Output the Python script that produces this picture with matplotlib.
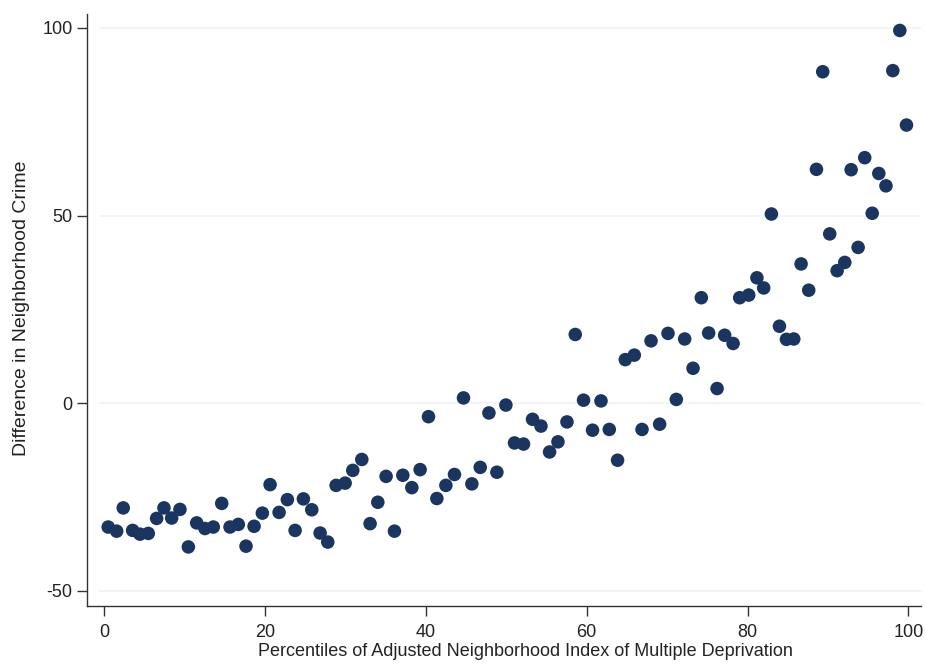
import matplotlib
matplotlib.use("Agg")
import matplotlib.pyplot as plt

# percentile (x) and difference in neighborhood crime (y)
pct = [0.53, 1.58, 2.40, 3.57, 4.48, 5.51, 6.55, 7.46, 8.42, 9.45,
       10.49, 11.53, 12.56, 13.59, 14.64, 15.67, 16.70, 17.66, 18.66, 19.69,
       20.65, 21.77, 22.80, 23.76, 24.79, 25.83, 26.87, 27.82, 28.86, 29.98,
       30.93, 32.05, 33.08, 34.04, 35.07, 36.11, 37.15, 38.27, 39.30, 40.34,
       41.38, 42.50, 43.57, 44.69, 45.73, 46.77, 47.85, 48.84, 49.96, 51.03,
       52.15, 53.27, 54.32, 55.39, 56.43, 57.55, 58.58, 59.61, 60.73, 61.78,
       62.81, 63.84, 64.80, 65.92, 66.88, 68.00, 69.07, 70.11, 71.14, 72.18,
       73.22, 74.25, 75.16, 76.21, 77.15, 78.20, 79.02, 80.14, 81.16, 82.00,
       82.96, 83.96, 84.83, 85.74, 86.65, 87.60, 88.56, 89.34, 90.21, 91.13,
       92.08, 92.87, 93.74, 94.56, 95.49, 96.31, 97.20, 98.05, 98.92, 99.75]
crime = [-33.0, -34.1, -27.9, -33.9, -34.9, -34.7, -30.7, -27.9, -30.6, -28.3,
         -38.3, -31.9, -33.4, -33.0, -26.7, -33.0, -32.3, -38.1, -32.8, -29.3,
         -21.7, -29.1, -25.7, -33.9, -25.5, -28.4, -34.6, -37.0, -21.9, -21.3,
         -17.9, -15.0, -32.1, -26.4, -19.5, -34.1, -19.2, -22.5, -17.7, -3.6,
         -25.4, -21.9, -19.0, 1.4, -21.5, -17.1, -2.6, -18.4, -0.5, -10.6,
         -10.9, -4.3, -6.1, -13.0, -10.3, -5.0, 18.3, 0.8, -7.2, 0.6,
         -7.0, -15.2, 11.6, 12.8, -7.0, 16.6, -5.6, 18.6, 1.0, 17.1,
         9.3, 28.1, 18.7, 3.9, 18.1, 15.9, 28.1, 28.8, 33.4, 30.7,
         50.4, 20.5, 17.0, 17.1, 37.1, 30.1, 62.3, 88.3, 45.1, 35.3,
         37.5, 62.2, 41.5, 65.4, 50.6, 61.2, 57.9, 88.6, 99.3, 74.1]

xticks = [0, 20, 40, 60, 80, 100]
yticks = [-50, 0, 50, 100]

plt.rcParams['font.family'] = ['Liberation Sans', 'DejaVu Sans']
plt.rcParams['axes.unicode_minus'] = False

fig = plt.figure(figsize=(9.26, 6.64), dpi=100)
ax = fig.add_axes([0.094, 0.087, 0.901, 0.892])

ax.scatter(pct, crime, s=95, c='#1a3560', edgecolors='none', zorder=3)

ax.set_xlim(-2.1, 101.6)
ax.set_ylim(-54.1, 103.7)
ax.set_xticks(xticks)
ax.set_yticks(yticks)

# faint horizontal grid like stata
for yv in yticks:
    ax.axhline(yv, xmin=0.015, color='#f0f3f3', lw=1.2, zorder=1)

for side in ['top', 'right']:
    ax.spines[side].set_visible(False)
for side in ['left', 'bottom']:
    ax.spines[side].set_color('#333333')
    ax.spines[side].set_linewidth(1.0)

ax.tick_params(direction='out', length=7, width=1, color='#333333',
               labelsize=13, labelcolor='#222222')
ax.tick_params(axis='x', pad=6)

ax.set_xlabel('Percentiles of Adjusted Neighborhood Index of Multiple Deprivation',
              fontsize=13, color='#222222')
ax.xaxis.set_label_coords(0.525, -0.062)
ax.set_ylabel('Difference in Neighborhood Crime', fontsize=14, color='#222222')
ax.yaxis.set_label_coords(-0.068, 0.503)

fig.savefig('out.png', dpi=100)
